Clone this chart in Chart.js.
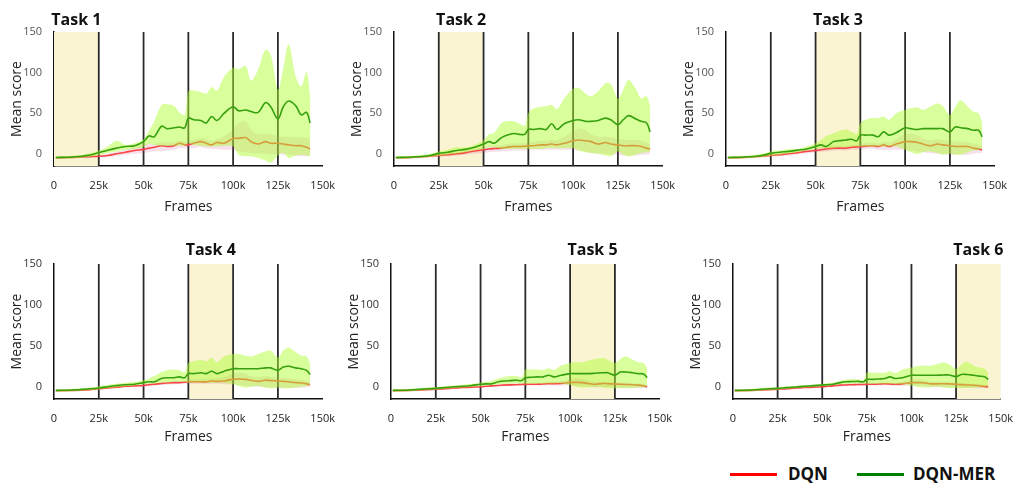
<!DOCTYPE html>
<html><head><meta charset="utf-8">
<script src="https://cdn.jsdelivr.net/npm/chart.js@4.4.0/dist/chart.umd.min.js"></script>
<style>
html,body{margin:0;padding:0;background:#fff;}
#wrap{position:relative;width:1018px;height:485px;overflow:hidden;background:#fff;font-family:"Open Sans",sans-serif;}
#wrap canvas{position:absolute;}
.sw{position:absolute;height:3px;width:47px;top:473px;}
.lt{position:absolute;top:462px;line-height:24px;font-weight:700;font-size:17px;color:#111;white-space:nowrap;}
</style></head><body><div id="wrap">
<div class="sw" style="left:730px;background:#ff0000"></div><div class="lt" style="left:788px">DQN</div>
<div class="sw" style="left:857px;background:#008000"></div><div class="lt" style="left:913px">DQN-MER</div>
</div>
<script>
// ---------------- data ----------------
const frames = [1,10,20,25,30,35,40,45,50,53,56,60,63,67,70,73,75,78,82,85,88,91,95,100,103,107,110,114,118,121,125,128,131,135,138,141,143];
const xTickValues = [0,25,50,75,100,125,150];
const xTickLabels = ['0','25k','50k','75k','100k','125k','150k'];
const yTickValues = [0,50,100,150];
const yTickLabels = ['0','50','100','150'];
const taskNames = ['Task 1','Task 2','Task 3','Task 4','Task 5','Task 6'];
const taskStarts = [0,25,50,75,100,125];
const taskEnds = [25,50,75,100,125,150];
const taskBoundaries = [25,50,75,100,125];
const seriesNames = ['DQN','DQN-MER'];

// Task 1
const merMean1 = [-4.5,-4,-1.5,1.5,4.5,7,9,10,15,22,21,34,31,32,33,32,44,42,41,38,46,41,50,58,53,54,52,51,63,58,43,58,65,59,48,51,38];
const merUpper1 = [-3,-2.5,0.5,4,9,16,11,13,18,28,40,60,61,59,51,48,77,78,76,74,82,78,95,106,104,108,90,104,128,122,79,105,135,95,83,101,70];
const merLower1 = [-6,-5.5,-3.5,-1.5,1,3,5,6,8,12,11,10,10,10,10,10,13,11,10,9,9,9,10,9,-1,-3,-3,-5,-8,-11,-2,1,-5,-2,-1,-2,-3];
const dqnMean1 = [-4.8,-4.5,-3.5,-3,-2,0,2,4,5.5,7,8,10,9,10,13,11,11,13,15,13,11,14,13,19,19,20,15,12,15,13,13,12,11,10,10,8,6];
const dqnUpper1 = [-4,-3.5,-2.5,-1.5,0,2.5,5,9,11,12,12,14,14,14,16,15,15,17,19,18,16,18,22,30,38,40,30,24,25,24,22,21,21,20,20,20,17];
const dqnLower1 = [-5.5,-5.5,-4.5,-4.5,-4,-2.5,-1,0,1,2,3,3,4,5,7,7,7,7,8,7,6,6,5,5,3,2,1,0,0,-1,0,-1,-1,-2,-3,-3,-2];
// Task 2
const merMean2 = [-4.5,-4,-2,0.5,2,4,5.5,8,12,15,13,20,23,25,24,24,30,30,31,30,37,30,37,41,42,40,40,41,44,42,36,42,47,43,40,38,27];
const merUpper2 = [-3,-2.5,0,3,5,8,8,11,17,24,26,38,40,40,37,35,50,56,58,59,60,55,68,80,81,74,71,77,87,86,68,79,91,80,68,71,58];
const merLower2 = [-6,-5.5,-4,-2.5,-1,0.5,2,4,6,8,8,6,6,6,6,6,6,6,6,7,7,7,7,7,4,2,1,0,-2,-3,3,-1,-3,-1,1,2,3];
const dqnMean2 = [-4.8,-4.5,-3,-2,-1,0,1.5,3.5,5,6,6.5,7,8,9,9,9.5,10,10,11,11,12,11,13,16,17,16,15,12,14,12,11,10,10,10,9,7,6];
const dqnUpper2 = [-4,-3.5,-2,-1,0,1.5,3,5.5,8,9,10,11,12,13,13,13,14,15,16,16,17,17,21,28,31,29,24,21,21,20,18,18,17,17,16,14,12];
const dqnLower2 = [-5.5,-5.5,-4.5,-3.5,-3,-2,-1,0,1,2,2.5,3,3,4,4,4,5,5,5,5,5,5,5,5,4,3,1,0,0,-1,-1,-2,-2,-2,-1,-1,0];
// Task 3
const merMean3 = [-4.5,-4,-2,0.5,2,3,4.5,6,9,11,9,15,16,17,18,16,23,23,23,21,27,23,26,32,31,30,31,31,31,31,27,33,32,31,29,29,21];
const merUpper3 = [-3,-2.5,0,3,4,6,6,9,13,17,22,25,28,30,27,25,38,42,44,44,46,42,50,54,56,57,54,58,62,59,48,58,66,58,52,50,38];
const merLower3 = [-6,-5.5,-4,-2.5,-1,0.5,2,4,6,7,7,7,8,8,9,9,9,9,9,9,9,9,9,5,2,0,2,3,1,-1,0,-1,-1,2,4,5,7];
const dqnMean3 = [-4.8,-4.5,-3,-2,-1,0,1.5,3,4,5,6,7,7,7,8,8.5,9,9.5,10,9,11,9,12,15,15,14,12,10,12,11,10,9,9,9,7,6,5];
const dqnUpper3 = [-4,-3.5,-2,-1,0,1.5,3,5,6.5,8,9,10,10,10,11,11,12,13,14,13,15,14,18,24,25,23,19,17,18,17,16,15,15,14,13,11,10];
const dqnLower3 = [-5.5,-5.5,-4.5,-3.5,-3,-2,-1,0.5,1.5,2.5,3,4,4,4,5,5,5,6,6,5,5,5,5,5,4,3,2,1,0,0,-1,-1,-1,-1,0,1,1];
// Task 4
const merMean4 = [-4.5,-4,-2.5,-1.5,0,1.5,2.5,3,5,6,6,10,11,11,12,11,16,16,17,16,19,16,19,22,22,22,22,22,23,23,20,24,25,23,22,20,15];
const merUpper4 = [-3,-2.5,-1,0.5,2,3.5,5,6,8,10,13,18,20,21,20,18,29,31,33,31,35,30,37,40,40,38,37,40,43,44,36,44,48,42,38,37,28];
const merLower4 = [-6,-5.5,-4,-3,-2,-0.5,0.5,1.5,3,4,4,5,5,6,6,6,5,5,5,5,5,5,5,3,1,-1,0,1,-1,-2,-1,-2,-2,-1,0,1,2];
const dqnMean4 = [-4.8,-4.5,-3.5,-2.5,-1.5,-0.5,0.5,1,1.5,2.5,3,4,4.5,5,5,5.5,6,6,6,6,7,6.5,7,9,9.5,9,8,6.5,8,7.5,7,6.5,6,5,4.5,3.5,2.5];
const dqnUpper4 = [-4,-3.5,-2.5,-1.5,-0.5,0.5,2,2.5,3.5,4.5,5,6,6.5,7,7,7.5,8.5,9,9,9,10,10,12,16,17,16,13,12,13,12,11,11,10,9,8.5,7,6];
const dqnLower4 = [-5.5,-5.5,-4.5,-3.5,-2.5,-1.5,-1,-0.5,0,1,1.5,2,2.5,3,3,3.5,3.5,3.5,3.5,3.5,3.5,3.5,3,3,2,1,0.5,0,-0.5,-1,-1.5,-1.5,-1.5,-1.5,-1,-0.5,0];
// Task 5
const merMean5 = [-4.5,-4,-2.5,-2,-1,0,0.5,1.5,3,3.5,3.5,6,7,7.5,8,7.5,11,11.5,12,12,14,12,14,16,16,16,16,16.5,17,17,14,18,18,17,16,15.5,11];
const merUpper5 = [-3,-2.5,-1,-0.5,0.5,1.5,2.5,3.5,5,6,7,10,12,13,13,11.5,21,21,21,20.5,22.6,20.5,26,29,30,30,32,34,35,33,29,34,37,33,30,29,22.6];
const merLower5 = [-6,-5.5,-4,-3.5,-2.5,-1.5,-1,0,1,1.5,2,3,3.5,4,4,4,3.5,3.5,3.5,4,4,4,4,2,0,-1,-0.5,0,-1,-1.5,-2,-2,-2,-1.5,-1,-0.5,1];
const dqnMean5 = [-4.8,-4.5,-3.5,-3,-2.5,-1.5,-1,-0.5,0,0.5,1,1.5,2,2.3,2.5,2.8,3,3,3.2,3.3,3.8,3.8,4,5.3,5.3,5,4,3,4,3.7,3.3,3,2.8,2.5,2,1,0];
const dqnUpper5 = [-4,-3.5,-2.5,-2,-1.5,-0.5,0,0.5,1.5,2,2.5,3,3.5,4,4,4.5,4.5,5,5,5,5.5,5.5,6.5,9,10,9,7,6,6.5,6,5.5,5.5,5,4.5,4,3,2];
const dqnLower5 = [-5.5,-5.5,-4.5,-4,-3.5,-2.5,-2,-1.5,-1,-0.5,0,0.5,1,1,1,1.3,1.5,1.5,1.5,1.5,1.8,1.8,1.5,1.5,1,0.5,0,-0.5,-0.5,-1,-1,-1.5,-1.5,-1.5,-1.5,-1.5,-1.5];
// Task 6
const merMean6 = [-4.5,-4,-2.5,-2,-1,-0.3,0.5,1.3,2,2.5,3,5,6,6.3,6.6,6,9,9,9.5,10,12,10,11,14,14,14,14,14,14.4,14.4,12.3,15,15,14,13,12.3,9];
const merUpper6 = [-3,-2.5,-1,-0.5,0.5,1,2,2.5,3.5,4.5,5,7,8.5,9,9,8,17,17,17,17,19,16.5,21,23.5,25,26,25.5,27.5,29.5,27.5,22,27,30.5,25.5,23.5,22,17];
const merLower6 = [-6,-5.5,-4,-3.5,-2.5,-1.5,-1,0,1,1.5,2,3,3.5,4,4,4,3.5,3.5,3.5,3.5,3.5,3,3,1.5,0,-1,-0.5,0,-1,-1.5,-1.5,-1.5,-1.5,-1,-0.5,0,1];
const dqnMean6 = [-4.8,-4.5,-3.5,-3,-2.5,-1.5,-1,-0.5,0,0.5,1,2,2.2,2.5,2.7,2.8,3,3,3.3,3.7,3.3,3,3.5,5,5,4.8,3.7,3.5,3.7,3.5,3,2.6,2.2,1.8,1.2,0.3,0];
const dqnUpper6 = [-4,-3.5,-2.5,-2,-1.5,-0.5,0,0.5,1.5,2,2.5,3.5,3.7,4,4.2,4.3,4.5,4.5,5,5.5,5,5,6,8.5,9,8,6.5,6,6,5.5,5,4.5,4,3.5,3,2,1.8];
const dqnLower6 = [-5.5,-5.5,-4.5,-4,-3.5,-2.5,-2,-1.5,-1,-0.5,0,0.5,0.7,1,1.2,1.3,1.5,1.5,1.6,1.9,1.6,1,1,1.5,1,0.5,0,-0.5,-0.5,-1,-1,-1.2,-1.5,-1.5,-1.8,-1.8,-1.8];

const tasks = [
  {merMean:merMean1, merUpper:merUpper1, merLower:merLower1, dqnMean:dqnMean1, dqnUpper:dqnUpper1, dqnLower:dqnLower1},
  {merMean:merMean2, merUpper:merUpper2, merLower:merLower2, dqnMean:dqnMean2, dqnUpper:dqnUpper2, dqnLower:dqnLower2},
  {merMean:merMean3, merUpper:merUpper3, merLower:merLower3, dqnMean:dqnMean3, dqnUpper:dqnUpper3, dqnLower:dqnLower3},
  {merMean:merMean4, merUpper:merUpper4, merLower:merLower4, dqnMean:dqnMean4, dqnUpper:dqnUpper4, dqnLower:dqnLower4},
  {merMean:merMean5, merUpper:merUpper5, merLower:merLower5, dqnMean:dqnMean5, dqnUpper:dqnUpper5, dqnLower:dqnLower5},
  {merMean:merMean6, merUpper:merUpper6, merLower:merLower6, dqnMean:dqnMean6, dqnUpper:dqnUpper6, dqnLower:dqnLower6}
];

// ---------------- layout ----------------
const FONT = '"Open Sans", sans-serif';
const panels = [
  {left:0,   top:0,   width:340, padTop:32, plotH:134, xAxisH:56, titleGap:12, xTitlePad:7, yTickColor:'#555'},
  {left:340, top:0,   width:340, padTop:32, plotH:134, xAxisH:56, titleGap:12, xTitlePad:7, yTickColor:'#555'},
  {left:672, top:0,   width:340, padTop:32, plotH:134, xAxisH:56, titleGap:12, xTitlePad:7, yTickColor:'#555'},
  {left:0,   top:232, width:340, padTop:32, plotH:135, xAxisH:50, titleGap:14, xTitlePad:4, yTickColor:'#333'},
  {left:337, top:232, width:340, padTop:32, plotH:135, xAxisH:50, titleGap:14, xTitlePad:4, yTickColor:'#333'},
  {left:679, top:232, width:339, padTop:32, plotH:135, xAxisH:50, titleGap:14, xTitlePad:4, yTickColor:'#333'}
];
const Y_AXIS_W = 54, PLOT_W = 270;

const taskPlugin = {
  id: 'taskMarks',
  beforeDatasetsDraw(chart, args, opts) {
    const {ctx, chartArea: a, scales: {x}} = chart;
    const t = opts.task;
    ctx.save();
    const x0 = x.getPixelForValue(taskStarts[t]);
    const x1 = x.getPixelForValue(taskEnds[t]);
    ctx.fillStyle = '#faf4d3';
    ctx.fillRect(x0, a.top, x1 - x0, a.bottom - a.top);
    ctx.strokeStyle = '#2a2a2a';
    ctx.lineWidth = 1.8;
    taskBoundaries.forEach(b => {
      const px = x.getPixelForValue(b);
      ctx.beginPath(); ctx.moveTo(px, a.top); ctx.lineTo(px, a.bottom); ctx.stroke();
    });
    ctx.restore();
  },
  afterDraw(chart, args, opts) {
    const {ctx, chartArea: a, scales: {x}} = chart;
    const t = opts.task;
    const cx = (x.getPixelForValue(taskStarts[t]) + x.getPixelForValue(taskEnds[t])) / 2;
    ctx.save();
    ctx.font = 'bold 16px ' + FONT;
    ctx.fillStyle = '#111';
    ctx.textAlign = 'center';
    ctx.textBaseline = 'middle';
    ctx.fillText(taskNames[t], cx, a.top - opts.titleGap);
    ctx.restore();
  }
};

const pts = arr => arr.map((v, i) => ({x: frames[i], y: v}));
const wrap = document.getElementById('wrap');

panels.forEach((p, t) => {
  const cv = document.createElement('canvas');
  const h = p.padTop + p.plotH + p.xAxisH;
  cv.width = p.width; cv.height = h;
  cv.style.left = p.left + 'px'; cv.style.top = p.top + 'px';
  cv.style.width = p.width + 'px'; cv.style.height = h + 'px';
  wrap.appendChild(cv);
  const d = tasks[t];
  const common = {pointRadius: 0, tension: 0.35};
  new Chart(cv, {
    type: 'line',
    data: {
      datasets: [
        {label: seriesNames[1], data: pts(d.merMean), borderColor: 'rgb(55,160,15)', borderWidth: 1.6, fill: false, order: 0, ...common},
        {label: seriesNames[1] + ' upper', data: pts(d.merUpper), borderWidth: 0, borderColor: 'rgba(0,0,0,0)', backgroundColor: 'rgba(173,255,47,0.48)', fill: '+1', order: 1, ...common},
        {label: seriesNames[1] + ' lower', data: pts(d.merLower), borderWidth: 0, borderColor: 'rgba(0,0,0,0)', fill: false, order: 1, ...common},
        {label: seriesNames[0], data: pts(d.dqnMean), borderColor: 'rgb(250,70,70)', borderWidth: 1.6, fill: false, order: 2, ...common},
        {label: seriesNames[0] + ' upper', data: pts(d.dqnUpper), borderWidth: 0, borderColor: 'rgba(0,0,0,0)', backgroundColor: 'rgba(199,60,130,0.16)', fill: '+1', order: 3, ...common},
        {label: seriesNames[0] + ' lower', data: pts(d.dqnLower), borderWidth: 0, borderColor: 'rgba(0,0,0,0)', fill: false, order: 3, ...common}
      ]
    },
    options: {
      responsive: false, animation: false, devicePixelRatio: 1, events: [],
      layout: {padding: {top: p.padTop, left: 0, bottom: 0, right: p.width - Y_AXIS_W - PLOT_W}},
      plugins: {legend: {display: false}, tooltip: {enabled: false}, title: {display: false}, taskMarks: {task: t, titleGap: p.titleGap}},
      scales: {
        x: {
          type: 'linear', min: 0, max: 150,
          grid: {display: false},
          border: {display: true, color: '#111', width: 1.5},
          afterBuildTicks: s => { s.ticks = xTickValues.map(v => ({value: v})); },
          afterFit: s => { s.height = p.xAxisH; },
          ticks: {padding: 5, maxRotation: 0, autoSkip: false, color: '#222', font: {family: FONT, size: 11},
                  callback: v => xTickLabels[xTickValues.indexOf(v)]},
          title: {display: true, text: 'Frames', color: '#222', font: {family: FONT, size: 14}, padding: {top: 0, bottom: p.xTitlePad}}
        },
        y: {
          type: 'linear', min: -15, max: 150,
          grid: {display: false},
          border: {display: true, color: '#111', width: 1.5},
          afterBuildTicks: s => { s.ticks = yTickValues.map(v => ({value: v})); },
          afterFit: s => { s.width = Y_AXIS_W; },
          ticks: {padding: 4, color: p.yTickColor, font: {family: FONT, size: 11},
                  callback: v => yTickLabels[yTickValues.indexOf(v)]},
          title: {display: true, text: 'Mean score', color: '#222', font: {family: FONT, size: 14}, padding: {top: 8.6, bottom: 0}}
        }
      }
    },
    plugins: [taskPlugin]
  });
});
</script>
</body></html>
